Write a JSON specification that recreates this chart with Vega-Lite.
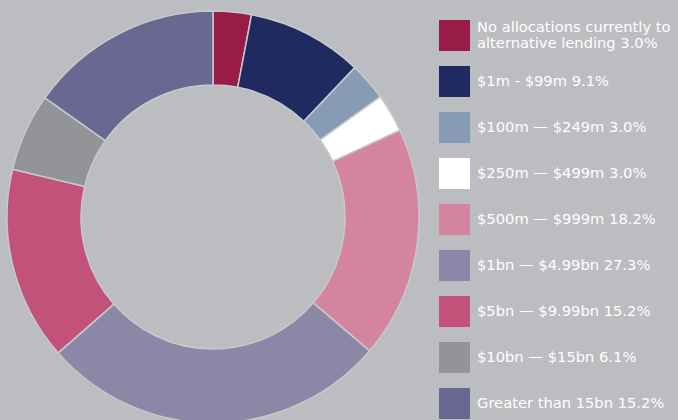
{
  "$schema": "https://vega.github.io/schema/vega-lite/v6.json",
  "width": 426,
  "height": 434,
  "autosize": "none",
  "padding": {"left": 0, "top": 0, "right": 252, "bottom": 0},
  "background": "#BCBDC1",
  "config": {"view": {"stroke": null}},
  "data": {
    "values": [
      {"category": "No allocations currently to alternative lending", "pct": 3.0, "rank": 1},
      {"category": "$1m - $99m", "pct": 9.1, "rank": 2},
      {"category": "$100m — $249m", "pct": 3.0, "rank": 3},
      {"category": "$250m — $499m", "pct": 3.0, "rank": 4},
      {"category": "$500m — $999m", "pct": 18.2, "rank": 5},
      {"category": "$1bn — $4.99bn", "pct": 27.3, "rank": 6},
      {"category": "$5bn — $9.99bn", "pct": 15.2, "rank": 7},
      {"category": "$10bn — $15bn", "pct": 6.1, "rank": 8},
      {"category": "Greater than 15bn", "pct": 15.2, "rank": 9}
    ]
  },
  "mark": {"type": "arc", "outerRadius": 206, "innerRadius": 132, "stroke": "#C8C9CC", "strokeWidth": 1.5},
  "encoding": {
    "theta": {"field": "pct", "type": "quantitative", "stack": true},
    "order": {"field": "rank", "type": "quantitative"},
    "color": {
      "field": "category",
      "type": "nominal",
      "sort": null,
      "scale": {
        "domain": ["No allocations currently to alternative lending", "$1m - $99m", "$100m — $249m", "$250m — $499m", "$500m — $999m", "$1bn — $4.99bn", "$5bn — $9.99bn", "$10bn — $15bn", "Greater than 15bn"],
        "range": ["#981B48", "#1F2A60", "#879BB5", "#FFFFFF", "#D4849E", "#8A88A6", "#C2527A", "#939497", "#686890"]
      },
      "legend": {
        "title": null,
        "orient": "none",
        "legendX": 439,
        "legendY": 20,
        "symbolType": "square",
        "symbolSize": 961,
        "symbolStrokeWidth": 0,
        "symbolOpacity": 1,
        "labelFont": "DejaVu Sans",
        "labelFontSize": 14.7,
        "labelColor": "#FFFFFF",
        "labelOffset": 7,
        "labelLimit": 300,
        "labelLineHeight": 18,
        "labelBaseline": {"expr": "(indexof('' + datum.value, 'No allocations') === 0 || indexof('' + datum.label, 'No allocations') === 0) ? 'line-bottom' : 'middle'"},
        "rowPadding": 15,
        "labelExpr": "datum.label == 'No allocations currently to alternative lending' ? ['No allocations currently to', 'alternative lending 3.0%'] : datum.label == '$1m - $99m' ? '$1m - $99m 9.1%' : datum.label == '$100m — $249m' ? '$100m — $249m 3.0%' : datum.label == '$250m — $499m' ? '$250m — $499m 3.0%' : datum.label == '$500m — $999m' ? '$500m — $999m 18.2%' : datum.label == '$1bn — $4.99bn' ? '$1bn — $4.99bn 27.3%' : datum.label == '$5bn — $9.99bn' ? '$5bn — $9.99bn 15.2%' : datum.label == '$10bn — $15bn' ? '$10bn — $15bn 6.1%' : 'Greater than 15bn 15.2%'"
      }
    }
  }
}
